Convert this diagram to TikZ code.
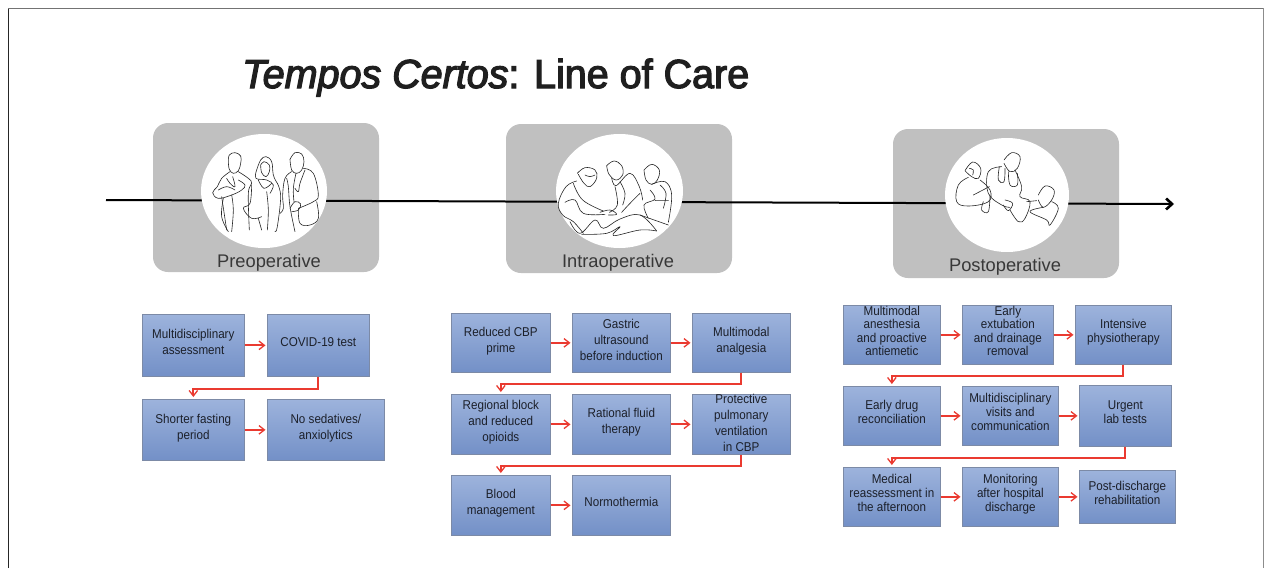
\documentclass[tikz,border=0pt]{standalone}
\usepackage{fontspec}
\setmainfont{Liberation Sans}
\newfontfamily\titlefont[FakeBold=3,FakeStretch=.975]{Liberation Sans}
\newfontfamily\boxfont[FakeStretch=.91]{Liberation Sans}
\usetikzlibrary{arrows.meta,calc}
\definecolor{redline}{HTML}{EA3A30}
\definecolor{boxtop}{HTML}{9DB3DC}
\definecolor{boxbot}{HTML}{7390C7}
\definecolor{boxedge}{HTML}{7C8AA6}
\definecolor{panelgray}{HTML}{C0C0C0}
\definecolor{boxtext}{HTML}{1C202A}
\newcommand{\lft}[1]{\raisebox{-2pt}{\smash{\begin{tabular}{@{}c@{}}#1\end{tabular}}}}
\newcommand{\lftz}[1]{\raisebox{-5pt}{\smash{\begin{tabular}{@{}c@{}}#1\end{tabular}}}}
\tikzset{
 x=1pt,y=-1pt,
 stepbox/.style={rectangle,draw=boxedge,line width=.7pt,top color=boxtop,bottom color=boxbot,
   text=boxtext,inner sep=0pt,anchor=north west,
   font=\boxfont\fontsize{12.8}{16}\selectfont,
   minimum width=#1},
 tight/.style={font=\boxfont\fontsize{12.8}{13.6}\selectfont},
 panel/.style={fill=panelgray,draw=none,rounded corners=15pt},
 disc/.style={fill=white,draw=none},
 flow/.style={draw=redline,line width=1.8pt,-{Straight Barb[length=5.5pt,width=8.5pt,line width=1.3pt]},shorten >=1.5pt},
 turn/.style={draw=redline,line width=1.8pt,-{Straight Barb[length=5.5pt,width=8.5pt,line width=1.3pt]},shorten >=2pt},
 ink/.style={line width=.6pt,draw=black!85,line cap=round,line join=round},
 phase/.style={font=\fontsize{18.3}{20}\selectfont,text=black!78,inner sep=0pt},
}
\newcommand{\stk}[1]{\draw[ink] plot[smooth,tension=.65] coordinates{#1};}
\begin{document}
\begin{tikzpicture}
\useasboundingbox (0,0) rectangle (1264,568);
\fill[white] (0,0) rectangle (1264,568);
\draw[line width=.9pt,black!85] (8,568)--(8,8);
\draw[line width=.9pt,black!55] (8,8)--(1263.5,8);
\draw[line width=.5pt,black!45] (1263.5,8)--(1263.5,568);

% title
\node[anchor=base west,inner sep=0pt,text=black!88,font=\titlefont\fontsize{40.5}{44}\selectfont] (title) at (242,88) {\textit{Tempos Certos}: Line of Care};

% panels
\path[panel] (153,123) rectangle (379,272);
\path[panel] (506,124) rectangle (732,273);
\path[panel] (893,129) rectangle (1119,278);

% time axis
\coordinate (axisstart) at (106,200);
\coordinate (axisend) at (1174,204);
\draw[line width=2pt,black,-{Straight Barb[length=6pt,width=11pt,line width=2.6pt]}] (axisstart) -- (axisend);

% discs
\path[disc] (264,191) ellipse [x radius=63,y radius=57];
\path[disc] (619.5,191) ellipse [x radius=63.5,y radius=57];
\path[disc] (1007,195) ellipse [x radius=62,y radius=57];

% phase labels
\node[phase] (pre) at (269,262.5) {Preoperative};
\node[phase] (intra) at (618,262.5) {Intraoperative};
\node[phase] (post) at (1005,266.5) {Postoperative};

% sketch 1
\begin{scope}[shift={(190,130)},scale=1/3]
\stk{(115,95)(118,75)(135,68)(152,78)(152,100)(145,122)(130,130)(118,118)(115,95)}
\stk{(120,125)(95,145)(82,170)(68,188)(85,205)(125,195)(155,180)(165,165)(145,150)}
\stk{(145,125)(175,145)(185,160)(175,190)(178,300)}
\stk{(95,200)(110,300)}
\stk{(100,205)(95,260)(115,305)}
\stk{(110,145)(120,160)(135,170)(128,140)}
\stk{(85,180)(110,170)(135,180)}
\stk{(125,195)(130,240)(125,305)}
\stk{(200,120)(212,90)(228,80)(245,95)(250,135)(262,160)}
\stk{(212,105)(222,95)(238,105)(238,125)(228,140)(215,128)(212,105)}
\stk{(200,120)(198,145)(230,150)(250,165)(240,190)}
\stk{(205,150)(222,175)(245,160)}
\stk{(185,165)(180,220)(160,235)(185,265)(215,260)}
\stk{(262,160)(272,200)(262,290)(255,305)}
\stk{(230,185)(235,240)(232,300)}
\stk{(205,265)(215,300)}
\stk{(300,88)(315,68)(335,72)(342,95)(335,120)(320,130)(305,120)(300,88)}
\stk{(305,125)(285,145)(278,195)(280,235)(270,250)}
\stk{(340,115)(370,130)(385,195)(370,215)(325,235)}
\stk{(318,130)(310,175)(312,215)}
\stk{(345,120)(330,160)(325,185)(315,175)}
\stk{(290,145)(295,170)(300,230)(315,305)}
\stk{(325,235)(330,280)(360,285)(385,265)(380,215)}
\stk{(300,235)(315,215)(332,222)(325,240)(305,245)}
\end{scope}

% sketch 2
\begin{scope}[shift={(540,125)},scale=1/3]
\stk{(112,145)(135,128)(165,135)(170,160)(150,185)(132,175)(115,148)}
\stk{(135,150)(150,155)(165,150)}
\stk{(110,168)(78,185)(55,235)(68,270)(100,290)(130,325)}
\stk{(100,175)(128,225)(190,258)}
\stk{(75,232)(105,225)(130,265)(195,268)}
\stk{(200,122)(222,108)(245,122)(248,150)(228,165)(207,148)(200,122)}
\stk{(215,158)(228,182)(270,145)(298,185)(308,225)}
\stk{(225,185)(232,240)(208,262)}
\stk{(300,205)(270,235)(245,262)}
\stk{(240,170)(255,205)(248,240)}
\stk{(312,135)(335,118)(358,135)(352,165)(335,178)(318,165)(312,135)}
\stk{(335,178)(375,170)(395,210)(385,292)}
\stk{(330,195)(345,222)(312,240)(325,280)}
\stk{(345,225)(385,225)}
\stk{(360,180)(378,205)(370,250)}
\stk{(180,262)(210,255)(230,268)(205,270)}
\stk{(90,290)(120,325)(165,285)(190,310)(240,282)(300,270)(350,318)}
\stk{(125,328)(200,325)(240,305)(220,332)(300,315)(350,318)}
\stk{(300,270)(385,300)}
\end{scope}

% sketch 3
\begin{scope}[shift={(930,130)},scale=1/3]
\stk{(105,122)(128,96)(152,115)(145,145)(125,140)(105,122)}
\stk{(118,115)(130,120)(128,135)}
\stk{(115,142)(85,165)(80,215)(115,228)(175,215)(180,180)(150,150)}
\stk{(130,195)(178,170)}
\stk{(160,215)(155,240)(175,245)(180,195)}
\stk{(222,90)(245,68)(270,80)(262,115)(240,125)(222,100)}
\stk{(215,110)(175,125)(175,190)(215,225)(240,232)}
\stk{(255,120)(275,170)(270,200)(300,215)(285,265)(265,275)(240,240)}
\stk{(208,110)(205,150)(222,155)(225,115)}
\stk{(235,125)(240,165)(262,165)(262,130)}
\stk{(225,210)(248,220)(235,242)(220,225)}
\stk{(325,195)(345,168)(372,180)(365,210)(340,232)(325,210)}
\stk{(340,232)(300,245)(350,270)(360,285)(385,235)(365,215)}
\stk{(290,215)(320,212)}
\end{scope}

% preoperative boxes
\node[stepbox=102pt,minimum height=62pt] (a1) at (142,314) {\lft{Multidisciplinary\\assessment}};
\node[stepbox=102pt,minimum height=62pt] (a2) at (267,314) {\lft{COVID-19 test}};
\node[stepbox=102pt,minimum height=61pt] (a3) at (142,399) {\lft{Shorter fasting\\period}};
\node[stepbox=117pt,minimum height=61pt] (a4) at (267,399) {\lft{No sedatives/\\anxiolytics}};
\draw[flow] (a1.east) -- (a2.west);
\draw[turn] (a2.south) -- ++(0,12) -| (a3.north);
\draw[flow] (a3.east) -- (a4.west);

% intraoperative boxes
\node[stepbox=99pt,minimum height=59pt] (b1) at (451,313) {\lft{Reduced CBP\\prime}};
\node[stepbox=98pt,minimum height=59pt] (b2) at (572,313) {\lft{Gastric\\ultrasound\\before induction}};
\node[stepbox=98pt,minimum height=59pt] (b3) at (692,313) {\lft{Multimodal\\analgesia}};
\node[stepbox=99pt,minimum height=60pt] (b4) at (451,394) {\lft{Regional block\\and reduced\\opioids}};
\node[stepbox=98pt,minimum height=60pt] (b5) at (572,394) {\lft{Rational fluid\\therapy}};
\node[stepbox=98pt,minimum height=60pt] (b6) at (692,394) {\lftz{Protective\\pulmonary\\ventilation\\in CBP}};
\node[stepbox=99pt,minimum height=60pt] (b7) at (451,475) {\lft{Blood\\management}};
\node[stepbox=98pt,minimum height=60pt] (b8) at (572,475) {\lft{Normothermia}};
\draw[flow] (b1.east) -- (b2.west);
\draw[flow] (b2.east) -- (b3.west);
\draw[turn] (b3.south) -- ++(0,11) -| (b4.north);
\draw[flow] (b4.east) -- (b5.west);
\draw[flow] (b5.east) -- (b6.west);
\draw[turn] (b6.south) -- ++(0,11) -| (b7.north);
\draw[flow] (b7.east) -- (b8.west);

% postoperative boxes
\node[stepbox=97pt,minimum height=59pt,tight] (c1) at (843,305) {\lft{Multimodal\\anesthesia\\and proactive\\antiemetic}};
\node[stepbox=91pt,minimum height=59pt,tight] (c2) at (962,305) {\lft{Early\\extubation\\and drainage\\removal}};
\node[stepbox=96pt,minimum height=59pt,tight] (c3) at (1075,305) {\lft{Intensive\\physiotherapy}};
\node[stepbox=97pt,minimum height=59pt,tight] (c4) at (843,386) {\lft{Early drug\\reconciliation}};
\node[stepbox=96pt,minimum height=59pt,tight] (c5) at (962,386) {\lft{Multidisciplinary\\visits and\\communication}};
\node[stepbox=92pt,minimum height=61pt,tight] (c6) at (1079,385) {\lft{Urgent\\lab tests}};
\node[stepbox=97pt,minimum height=59pt,tight] (c7) at (843,467) {\lft{Medical\\reassessment in\\the afternoon}};
\node[stepbox=96pt,minimum height=59pt,tight] (c8) at (962,467) {\lft{Monitoring\\after hospital\\discharge}};
\node[stepbox=96pt,minimum height=53pt,tight] (c9) at (1079,470) {\lft{Post-discharge\\rehabilitation}};
\draw[flow] (c1.east) -- (c2.west);
\draw[flow] (c2.east) -- (c3.west);
\draw[turn] (c3.south) -- ++(0,11) -| (c4.north);
\draw[flow] (c4.east) -- (c5.west);
\draw[flow] (c5.east) -- (c6.west);
\draw[turn] (c6.south) -- ++(0,11) -| (c7.north);
\draw[flow] (c7.east) -- (c8.west);
\draw[flow] (c8.east) -- (c9.west);
\end{tikzpicture}
\end{document}
